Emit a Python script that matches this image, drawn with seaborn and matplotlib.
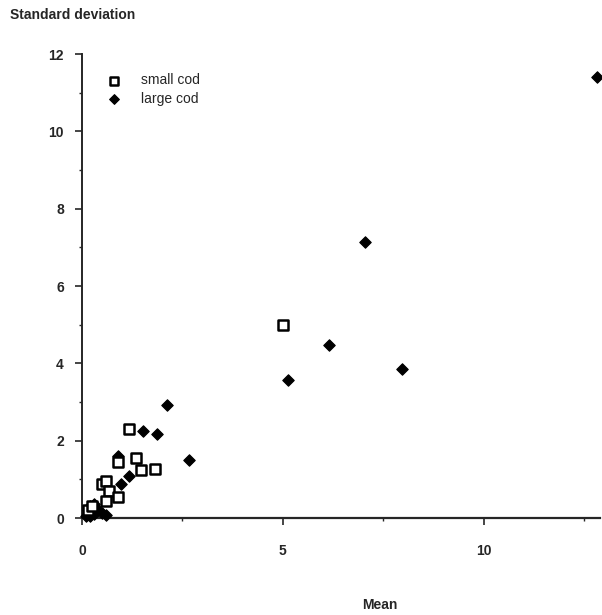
import matplotlib
matplotlib.use("Agg")
import matplotlib.pyplot as plt
import seaborn as sns
import pandas as pd
from matplotlib.ticker import MultipleLocator

# Data
small_mean = [5.0, 1.18, 0.89, 1.34, 1.46, 1.82, 0.49, 0.61, 0.68, 0.90, 0.60, 0.15, 0.25]
small_sd = [5.0, 2.30, 1.45, 1.56, 1.24, 1.26, 0.89, 0.96, 0.70, 0.54, 0.45, 0.20, 0.30]

large_mean = [12.83, 7.06, 6.14, 5.12, 7.98, 2.11, 1.52, 1.86, 2.67, 0.89, 1.18, 0.97,
              0.10, 0.15, 0.20, 0.25, 0.30, 0.40, 0.50, 0.60, 0.30, 0.20]
large_sd = [11.41, 7.13, 4.48, 3.57, 3.85, 2.92, 2.25, 2.17, 1.51, 1.61, 1.09, 0.89,
            0.05, 0.20, 0.30, 0.15, 0.10, 0.20, 0.12, 0.08, 0.35, 0.05]

x_ticks = [0, 5, 10]
y_ticks = [0, 2, 4, 6, 8, 10, 12]

sns.set_style("ticks")
plt.rcParams['font.family'] = ['Liberation Sans', 'DejaVu Sans']

fig = plt.figure(figsize=(6.02, 6.15), dpi=100)
ax = fig.add_axes([82/602, 1-518/615, 518/602, (518-54)/615])

df_s = pd.DataFrame({"Mean": small_mean, "SD": small_sd})
df_l = pd.DataFrame({"Mean": large_mean, "SD": large_sd})

sns.scatterplot(data=df_l, x="Mean", y="SD", ax=ax, marker="D", s=34,
                color="black", edgecolor="black", linewidth=0.8,
                label="large cod", clip_on=False, zorder=3)
sns.scatterplot(data=df_s, x="Mean", y="SD", ax=ax, marker="s", s=52,
                facecolor="white", edgecolor="black", linewidth=1.8,
                label="small cod", clip_on=False, zorder=4)

ax.set_xlim(0, 12.9)
ax.set_ylim(0, 12)
ax.set_xticks(x_ticks)
ax.set_xticklabels([str(t) for t in x_ticks])
ax.set_yticks(y_ticks)
ax.set_yticklabels([str(t) for t in y_ticks])
ax.xaxis.set_minor_locator(MultipleLocator(2.5))
ax.yaxis.set_minor_locator(MultipleLocator(1))
ax.tick_params(axis="both", which="major", direction="out", length=5, width=1.2,
               labelsize=10)
ax.tick_params(axis="x", which="major", pad=14)
ax.tick_params(axis="y", which="major", pad=8)
ax.tick_params(axis="both", which="minor", direction="out", length=2.5, width=1)
for t in ax.get_xticklabels() + ax.get_yticklabels():
    t.set_fontweight("bold")

sns.despine(ax=ax)
ax.spines["left"].set_linewidth(1.4)
ax.spines["bottom"].set_linewidth(1.6)

ax.set_xlabel("")
ax.set_ylabel("")
fig.text(380/602, 1-605/615, "Mean", ha="center", va="center",
         fontsize=10, fontweight="bold")
fig.text(10/602, 1-15/615, "Standard deviation", ha="left", va="center",
         fontsize=10, fontweight="bold")

handles, labels = ax.get_legend_handles_labels()
order = [1, 0]
ax.legend([handles[i] for i in order], [labels[i] for i in order],
          loc="upper left", bbox_to_anchor=(0.025, 0.97), frameon=False,
          fontsize=10, handletextpad=0.9, labelspacing=0.3, borderaxespad=0,
          markerscale=0.85)

fig.savefig("out.png", dpi=100)
